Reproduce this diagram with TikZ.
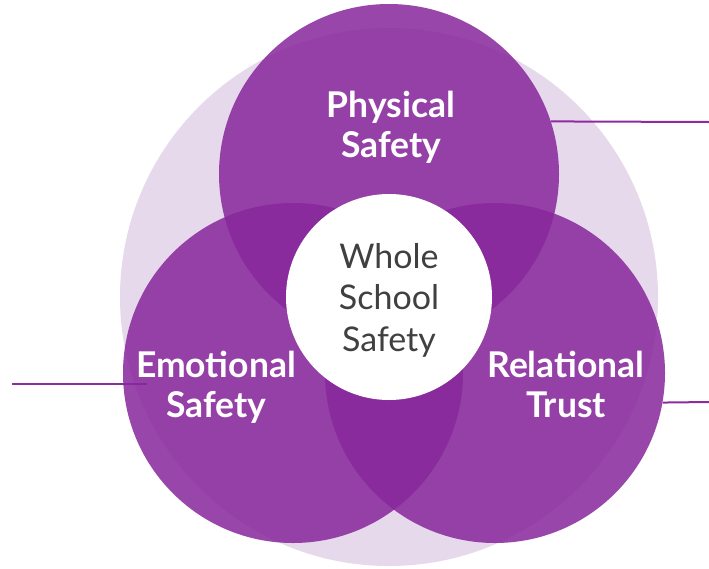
\documentclass[tikz,border=0pt]{standalone}
\usepackage{fontspec}
\setmainfont{Lato}
\usetikzlibrary{positioning,calc}
\usepackage{xcolor}
\definecolor{venn}{RGB}{136,40,156}
\definecolor{halo}{RGB}{230,217,235}
\definecolor{wire}{RGB}{142,43,160}
\definecolor{ink}{RGB}{64,64,64}

\begin{document}
\begin{tikzpicture}[
    x=1pt, y=-1pt,
    ringshape/.style={circle, inner sep=0pt, minimum size=340pt},
    ring/.style={ringshape, fill=venn, fill opacity=0.86},
    tag/.style={align=center, text=white, font=\fontsize{35.5}{40}\selectfont\bfseries},
    link/.style={draw=wire, line width=2pt}
]
    \useasboundingbox (0,0) rectangle (709,568);

    % Nodes
    \node (outer) [circle, inner sep=0pt, minimum size=538pt, fill=halo] at (389,297) {};
    \node (physical) [ringshape] at (389,174) {};
    \node (emotional) [ringshape] at (293,373) {};
    \node (relational) [ringshape] at (495,373) {};
    \coordinate (physicalend) at (709,122);
    \coordinate (emotionalend) at (12,384);
    \coordinate (emotionaltip) at (147,384);
    \coordinate (relationalend) at (709,402);

    % Connections
    \path [link] (emotionalend) -- (emotionaltip);
    \path [link] (physical.18) -- (physicalend);
    \path [link] (relational.-10) -- (relationalend);

    % Circles on top of the wires
    \node [ring] at (physical) {};
    \node [ring] at (emotional) {};
    \node [ring] at (relational) {};
    \node (whole) [circle, inner sep=0pt, minimum size=206pt, fill=white] at (389,297) {};

    % Labels
    \node (wholetext) [align=center, text=ink, font=\fontsize{34}{41.5}\selectfont] at (389,300) {Whole\\School\\Safety};
    \node (physicaltext) [tag] at (391,127) {Physical\\Safety};
    \node (emotionaltext) [tag] at (216,387) {Emotional\\Safety};
    \node (relationaltext) [tag] at (566,384) {Relational\\Trust};

\end{tikzpicture}
\end{document}
